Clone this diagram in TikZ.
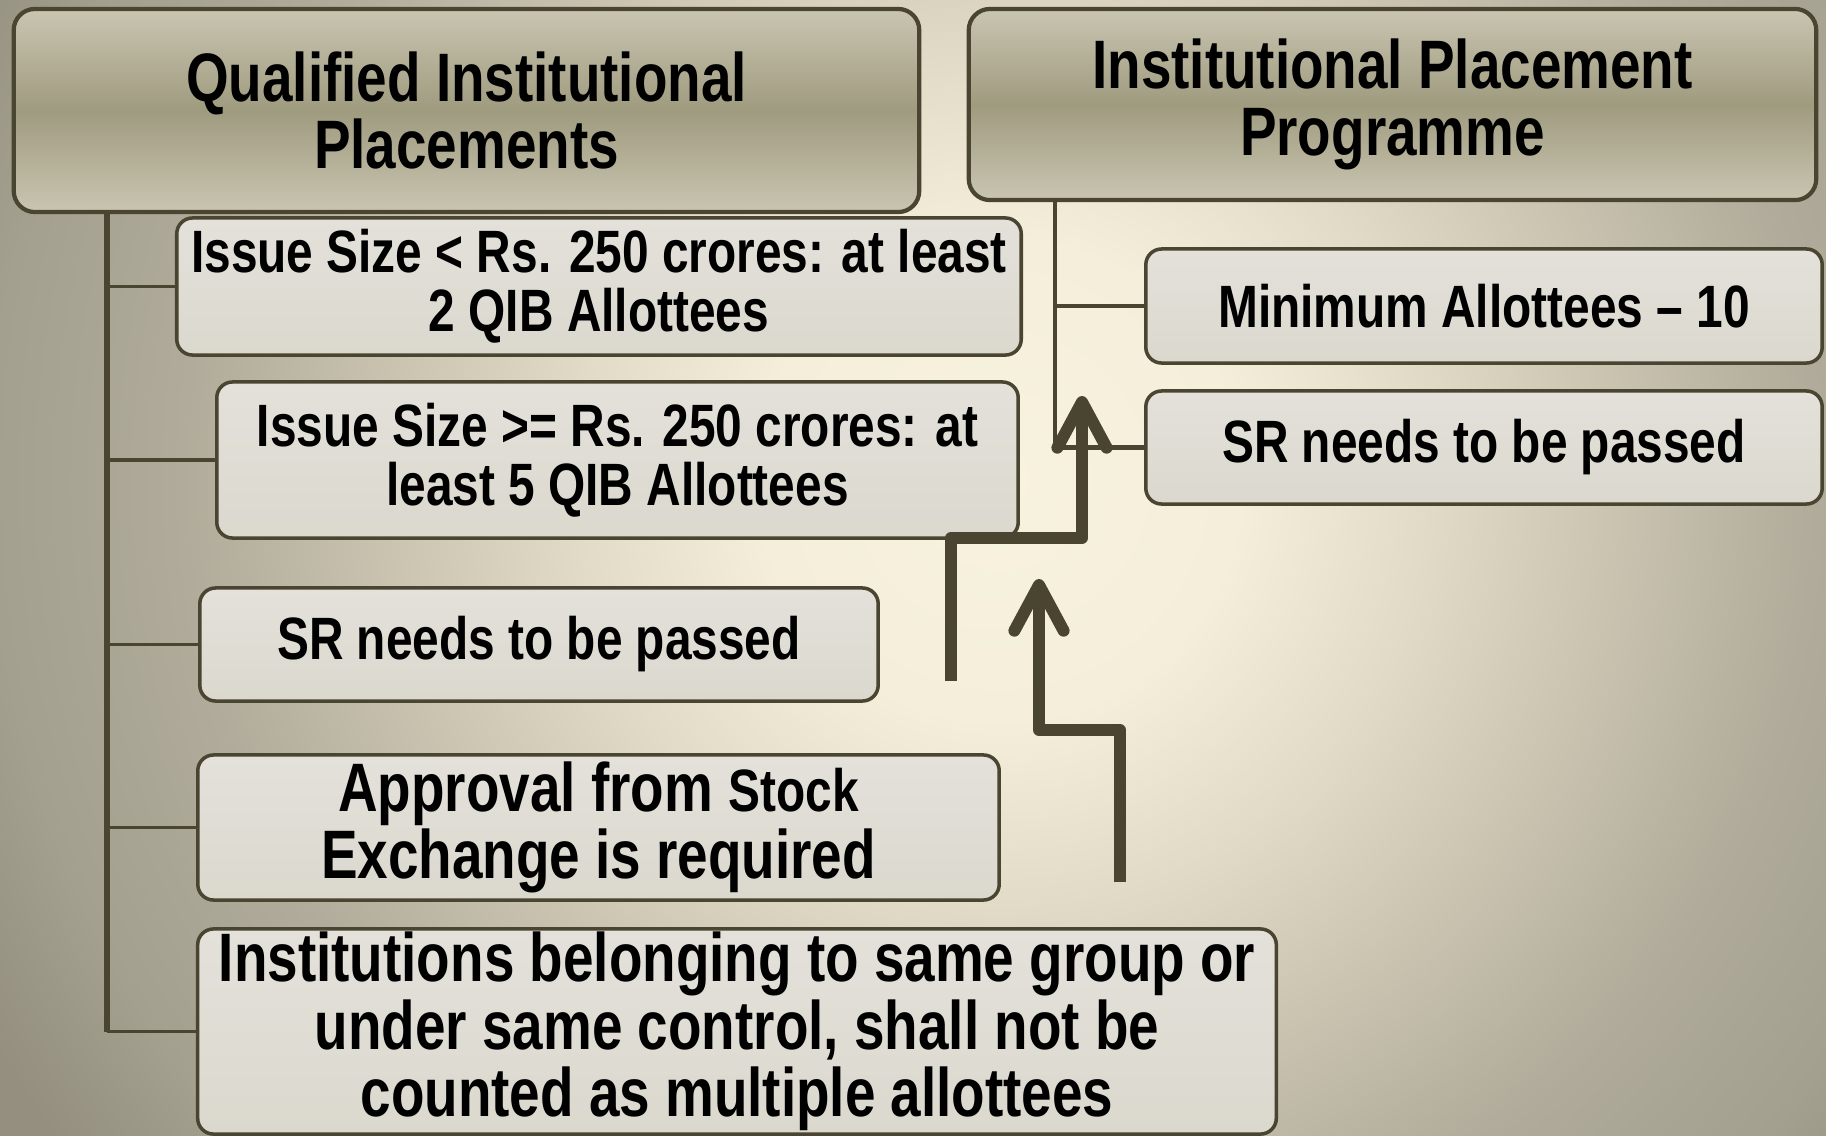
\documentclass[tikz,border=0pt]{standalone}
\usepackage{fontspec}
\setmainfont{Liberation Sans}[FakeStretch=0.8]
\usepackage{xcolor}
\usepackage{tikz}
\usetikzlibrary{arrows.meta,shadings}

\definecolor{cLine}{HTML}{4A4530}
\definecolor{cHeadLight}{HTML}{CAC5B1}
\definecolor{cHeadDark}{HTML}{9F9B7F}
\definecolor{cBoxTop}{HTML}{E3E1DA}
\definecolor{cBoxBottom}{HTML}{DBD8CE}
\definecolor{cBgCentre}{HTML}{F8F3DF}
\definecolor{cBgInner}{HTML}{F4EEDA}
\definecolor{cBgLight}{HTML}{E0DAC6}
\definecolor{cBgMid}{HTML}{C8C2AF}
\definecolor{cBgOuter}{HTML}{B0AB9A}
\definecolor{cBgEdge}{HTML}{A3A08F}
\definecolor{cBgCorner}{HTML}{948F7E}

% the path's box spans 25bp of radius
\pgfdeclareradialshading{bgGlow}{\pgfpoint{0bp}{0bp}}{%
  color(0bp)=(cBgCentre); color(5bp)=(cBgInner); color(9bp)=(cBgLight);
  color(13bp)=(cBgMid); color(17bp)=(cBgOuter); color(21bp)=(cBgEdge);
  color(24bp)=(cBgCorner); color(50bp)=(cBgCorner)}

\tikzstyle{tsBold} = [
    text=black,
    font=\bfseries\fontsize{17}{16.8}\selectfont
]
\tikzstyle{tsBoldLarge} = [
    text=black,
    font=\bfseries\fontsize{19.5}{19.2}\selectfont
]
\tikzstyle{tsHead} = [
    rectangle,
    tsBoldLarge,
    align=center,
    rounded corners=6pt,
    draw=cLine,
    line width=1.2pt,
    top color=cHeadLight,
    bottom color=cHeadLight,
    middle color=cHeadDark,
    inner sep=0pt]
\tikzstyle{tsBox} = [
    rectangle,
    tsBold,
    align=center,
    rounded corners=4.5pt,
    draw=cLine,
    line width=1pt,
    top color=cBoxTop,
    bottom color=cBoxBottom,
    inner sep=0pt]
\tikzstyle{tsTree} = [
    draw=cLine,
    line width=1pt]
\tikzstyle{tsFlow} = [
    draw=cLine,
    line width=3.4pt,
    line join=round,
    -{Straight Barb[length=13pt,width=14pt,line cap=round,line join=round]}]

\begin{document}
\begin{tikzpicture}[x=0.01cm, y=-0.01cm]

        \useasboundingbox (0,0) rectangle (1826,1136);
        \begin{scope}
            \clip (0,0) rectangle (1826,1136);
            \fill[cBgCorner] (0,0) rectangle (1826,1136);
            \shade[shading=bgGlow] (1000,480) circle [radius=12cm];
        \end{scope}

        % headers
        \node[tsHead, minimum width=9.05cm, minimum height=2.03cm] (qip) at (466.5,110.5)
            {Qualified Institutional\\Placements};
        \node[tsHead, minimum width=8.47cm, minimum height=1.91cm] (ipp) at (1392.5,104.5)
            {Institutional Placement\\Programme};

        % conditions under QIP
        \node[tsBox, minimum width=8.44cm, minimum height=1.37cm] (qipSmall) at (599,286.5)
            {Issue Size < Rs. 250 crores: at least\\2 QIB Allottees};
        \node[tsBox, minimum width=8.01cm, minimum height=1.56cm] (qipLarge) at (617.5,460)
            {Issue Size >= Rs. 250 crores: at\\least 5 QIB Allottees};
        \node[tsBox, minimum width=6.78cm, minimum height=1.13cm] (qipSR) at (539,644.5)
            {SR needs to be passed};
        \node[tsBox, tsBoldLarge, minimum width=8.01cm, minimum height=1.45cm] (qipExch) at (598.5,827.5)
            {Approval from {\fontsize{17}{16.8}\selectfont Stock}\\Exchange is required};
        \node[tsBox, tsBoldLarge, minimum width=10.78cm, minimum height=2.05cm] (qipGroup) at (737,1031.5)
            {Institutions belonging to same group or\\under same control, shall not be\\counted as multiple allottees};

        % conditions under IPP
        \node[tsBox, minimum width=6.76cm, minimum height=1.14cm] (ippMin) at (1484,306)
            {Minimum Allottees -- 10};
        \node[tsBox, minimum width=6.76cm, minimum height=1.13cm] (ippSR) at (1484,447.5)
            {SR needs to be passed};

        % tree lines
        \coordinate (qipRoot) at (107,212);
        \foreach \n in {qipSmall,qipLarge,qipSR,qipExch,qipGroup}
            \draw[tsTree] (qipRoot |- \n.west) -- (\n.west);
        \draw[tsTree, line width=1.7pt] (qipRoot) -- (qipRoot |- qipGroup.west);

        \coordinate (ippRoot) at (1055,200);
        \draw[tsTree, line width=1.2pt] (ippRoot) |- (ippSR.west);
        \draw[tsTree, line width=1.2pt] (ippRoot |- ippMin.west) -- (ippMin.west);

        % stepped arrows
        \coordinate (flowA) at (951,681);
        \coordinate (flowB) at (1120,882);
        \draw[tsFlow] (flowA) -- ++(0,-143) -- ++(131,0) -- ++(0,-142);
        \draw[tsFlow] (flowB) -- ++(0,-152) -- ++(-81,0) -- ++(0,-151);

\end{tikzpicture}
\end{document}
